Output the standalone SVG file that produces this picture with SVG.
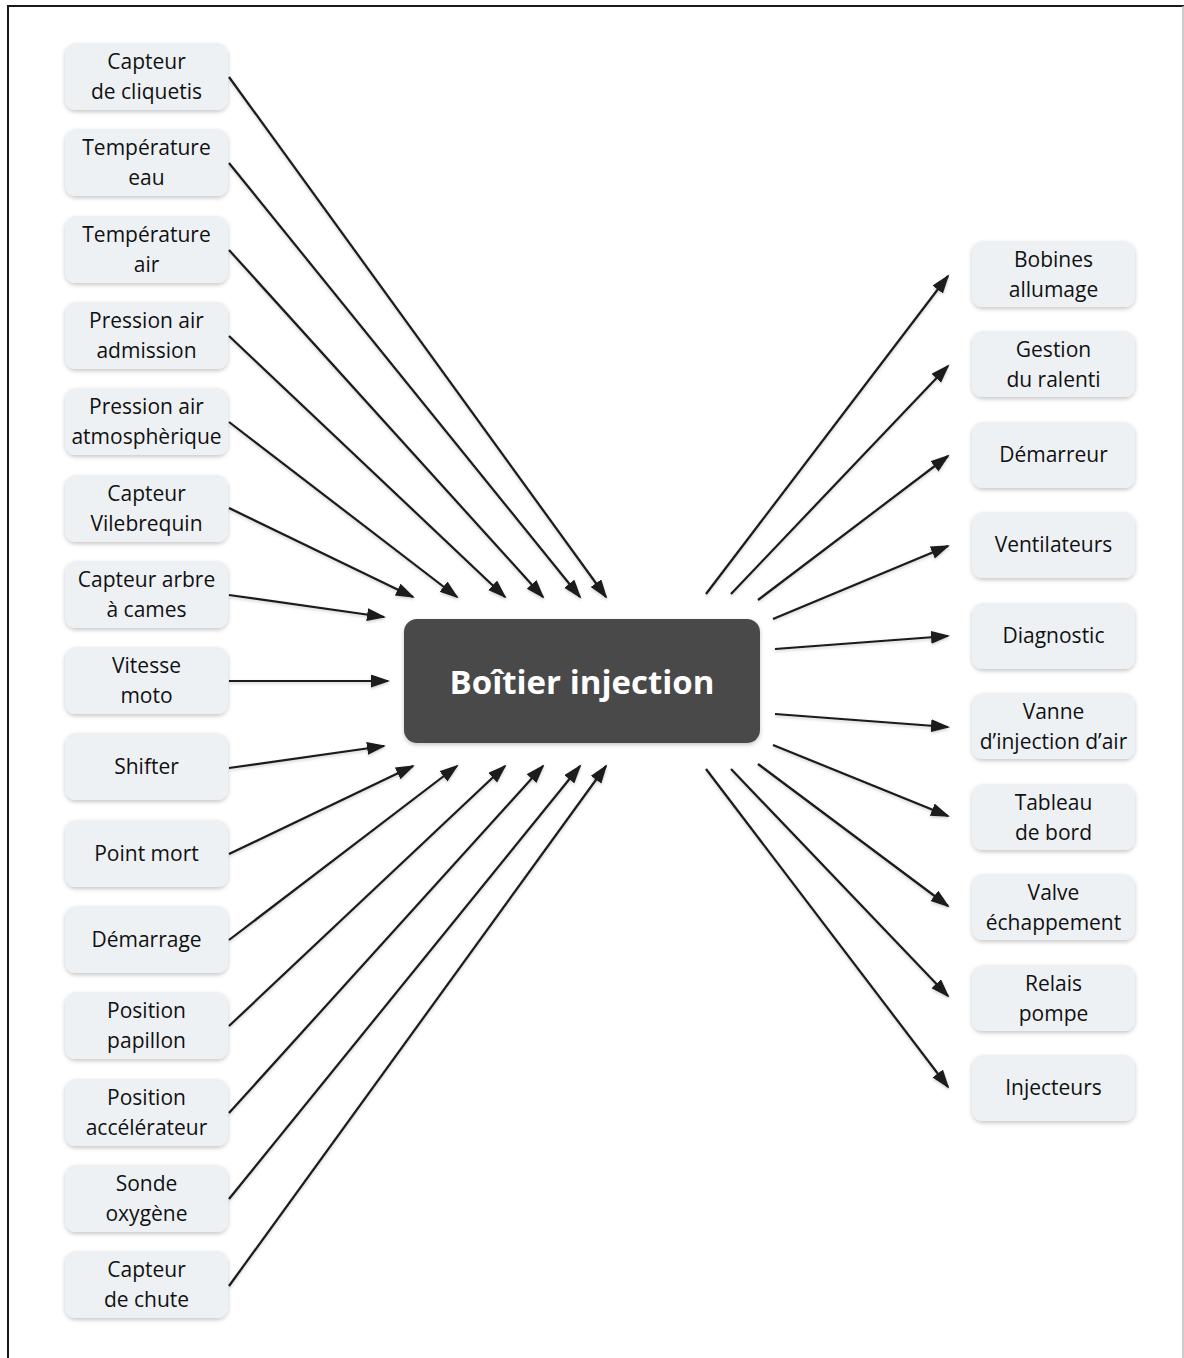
<svg xmlns="http://www.w3.org/2000/svg" width="1184" height="1358" viewBox="0 0 1184 1358">
<style>
.n{fill:#eef1f4;filter:url(#sh)}
.t{font-family:"Open Sans","Noto Sans",sans-serif;font-size:21px;fill:#111111;text-anchor:middle}
.c{stroke:#1a1a1a;stroke-width:2.2;fill:none;marker-end:url(#ah)}
.hub{fill:#4a4a4a;filter:url(#sh)}
.ht{font-family:"Open Sans","Noto Sans",sans-serif;font-size:33px;font-weight:bold;fill:#ffffff;text-anchor:middle}
</style>
<defs>
<filter id="sh" x="-10%" y="-20%" width="120%" height="150%">
<feDropShadow dx="0" dy="2" stdDeviation="2" flood-color="#000" flood-opacity="0.22"/>
</filter>
<filter id="lsh" filterUnits="userSpaceOnUse" x="0" y="0" width="1184" height="1358">
<feDropShadow dx="0" dy="1.5" stdDeviation="1.5" flood-color="#000" flood-opacity="0.2"/>
</filter>
<marker id="ah" markerUnits="userSpaceOnUse" markerWidth="20" markerHeight="14" refX="17" refY="6.5" orient="auto">
<path d="M0,0 L19,6.5 L0,13 Z" fill="#1a1a1a"/>
</marker>
</defs>
<rect x="0" y="0" width="1184" height="1358" fill="#ffffff"/>
<rect x="8" y="6" width="1190" height="1370" fill="none" stroke="#1a1a1a" stroke-width="2"/>
<line x1="1183" y1="6" x2="1183" y2="1358" stroke="#bdbdbd" stroke-width="1.5"/>

<g id="connectors" filter="url(#lsh)">
<line class="c" x1="229" y1="77" x2="606" y2="597"/>
<line class="c" x1="229" y1="163" x2="580" y2="597"/>
<line class="c" x1="229" y1="250" x2="543" y2="597"/>
<line class="c" x1="229" y1="336" x2="505" y2="597"/>
<line class="c" x1="229" y1="422" x2="457" y2="597"/>
<line class="c" x1="229" y1="508" x2="413" y2="597"/>
<line class="c" x1="229" y1="595" x2="384" y2="617"/>
<line class="c" x1="229" y1="681" x2="388" y2="681"/>
<line class="c" x1="229" y1="768" x2="384" y2="746"/>
<line class="c" x1="229" y1="854" x2="413" y2="766"/>
<line class="c" x1="229" y1="940" x2="457" y2="766"/>
<line class="c" x1="229" y1="1026" x2="505" y2="766"/>
<line class="c" x1="229" y1="1113" x2="543" y2="766"/>
<line class="c" x1="229" y1="1199" x2="580" y2="766"/>
<line class="c" x1="229" y1="1286" x2="606" y2="766"/>

<line class="c" x1="706" y1="594" x2="948" y2="276"/>
<line class="c" x1="731" y1="594" x2="948" y2="366"/>
<line class="c" x1="758" y1="600" x2="948" y2="456"/>
<line class="c" x1="773" y1="619" x2="948" y2="546"/>
<line class="c" x1="775" y1="649" x2="948" y2="636"/>
<line class="c" x1="775" y1="714" x2="948" y2="727"/>
<line class="c" x1="773" y1="745" x2="948" y2="816"/>
<line class="c" x1="758" y1="764" x2="948" y2="906"/>
<line class="c" x1="731" y1="769" x2="948" y2="996"/>
<line class="c" x1="706" y1="769" x2="948" y2="1087"/>
</g>

<g id="hub">
<rect class="hub" x="404" y="619" width="356" height="124" rx="13"/>
<text class="ht" x="582" y="694">Boîtier injection</text>
</g>

<g id="n-cliquetis"><rect class="n" x="65" y="43" width="163" height="67" rx="11"/><text class="t" x="146.5" y="69">Capteur</text><text class="t" x="146.5" y="99">de cliquetis</text></g>
<g id="n-temp-eau"><rect class="n" x="65" y="129" width="163" height="67" rx="11"/><text class="t" x="146.5" y="155">Température</text><text class="t" x="146.5" y="185">eau</text></g>
<g id="n-temp-air"><rect class="n" x="65" y="216" width="163" height="67" rx="11"/><text class="t" x="146.5" y="242">Température</text><text class="t" x="146.5" y="272">air</text></g>
<g id="n-press-adm"><rect class="n" x="65" y="302" width="163" height="67" rx="11"/><text class="t" x="146.5" y="328">Pression air</text><text class="t" x="146.5" y="358">admission</text></g>
<g id="n-press-atm"><rect class="n" x="65" y="388" width="163" height="67" rx="11"/><text class="t" x="146.5" y="414">Pression air</text><text class="t" x="146.5" y="444">atmosphèrique</text></g>
<g id="n-vilebrequin"><rect class="n" x="65" y="475" width="163" height="67" rx="11"/><text class="t" x="146.5" y="501">Capteur</text><text class="t" x="146.5" y="531">Vilebrequin</text></g>
<g id="n-cames"><rect class="n" x="65" y="561" width="163" height="67" rx="11"/><text class="t" x="146.5" y="587">Capteur arbre</text><text class="t" x="146.5" y="617">à cames</text></g>
<g id="n-vitesse"><rect class="n" x="65" y="647" width="163" height="67" rx="11"/><text class="t" x="146.5" y="673">Vitesse</text><text class="t" x="146.5" y="703">moto</text></g>
<g id="n-shifter"><rect class="n" x="65" y="733" width="163" height="67" rx="11"/><text class="t" x="146.5" y="774">Shifter</text></g>
<g id="n-point-mort"><rect class="n" x="65" y="820" width="163" height="67" rx="11"/><text class="t" x="146.5" y="861">Point mort</text></g>
<g id="n-demarrage"><rect class="n" x="65" y="906" width="163" height="67" rx="11"/><text class="t" x="146.5" y="947">Démarrage</text></g>
<g id="n-papillon"><rect class="n" x="65" y="992" width="163" height="67" rx="11"/><text class="t" x="146.5" y="1018">Position</text><text class="t" x="146.5" y="1048">papillon</text></g>
<g id="n-accel"><rect class="n" x="65" y="1079" width="163" height="67" rx="11"/><text class="t" x="146.5" y="1105">Position</text><text class="t" x="146.5" y="1135">accélérateur</text></g>
<g id="n-oxygene"><rect class="n" x="65" y="1165" width="163" height="67" rx="11"/><text class="t" x="146.5" y="1191">Sonde</text><text class="t" x="146.5" y="1221">oxygène</text></g>
<g id="n-chute"><rect class="n" x="65" y="1251" width="163" height="67" rx="11"/><text class="t" x="146.5" y="1277">Capteur</text><text class="t" x="146.5" y="1307">de chute</text></g>

<g id="n-bobines"><rect class="n" x="972" y="241" width="163" height="66" rx="11"/><text class="t" x="1053.5" y="267">Bobines</text><text class="t" x="1053.5" y="297">allumage</text></g>
<g id="n-ralenti"><rect class="n" x="972" y="331" width="163" height="66" rx="11"/><text class="t" x="1053.5" y="357">Gestion</text><text class="t" x="1053.5" y="387">du ralenti</text></g>
<g id="n-demarreur"><rect class="n" x="972" y="422" width="163" height="66" rx="11"/><text class="t" x="1053.5" y="462">Démarreur</text></g>
<g id="n-ventilateurs"><rect class="n" x="972" y="512" width="163" height="66" rx="11"/><text class="t" x="1053.5" y="552">Ventilateurs</text></g>
<g id="n-diagnostic"><rect class="n" x="972" y="603" width="163" height="66" rx="11"/><text class="t" x="1053.5" y="643">Diagnostic</text></g>
<g id="n-vanne"><rect class="n" x="972" y="693" width="163" height="66" rx="11"/><text class="t" x="1053.5" y="719">Vanne</text><text class="t" x="1053.5" y="749">d’injection d’air</text></g>
<g id="n-tableau"><rect class="n" x="972" y="784" width="163" height="66" rx="11"/><text class="t" x="1053.5" y="810">Tableau</text><text class="t" x="1053.5" y="840">de bord</text></g>
<g id="n-valve"><rect class="n" x="972" y="874" width="163" height="66" rx="11"/><text class="t" x="1053.5" y="900">Valve</text><text class="t" x="1053.5" y="930">échappement</text></g>
<g id="n-relais"><rect class="n" x="972" y="965" width="163" height="66" rx="11"/><text class="t" x="1053.5" y="991">Relais</text><text class="t" x="1053.5" y="1021">pompe</text></g>
<g id="n-injecteurs"><rect class="n" x="972" y="1055" width="163" height="66" rx="11"/><text class="t" x="1053.5" y="1095">Injecteurs</text></g>
</svg>
